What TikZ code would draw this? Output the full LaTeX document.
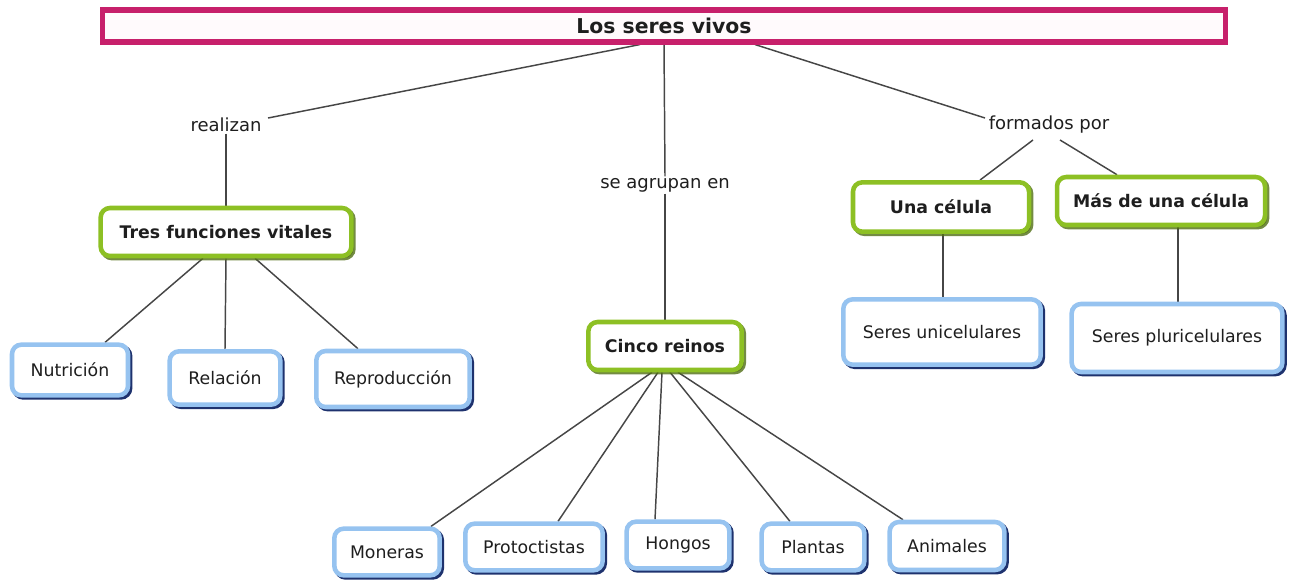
\documentclass[tikz,border=0pt]{standalone}
\usepackage{fontspec}
\setmainfont{DejaVu Sans}
\usetikzlibrary{shadows,calc,backgrounds}
\definecolor{pinkb}{RGB}{199,32,107}
\definecolor{greenb}{RGB}{141,192,36}
\definecolor{greensh}{RGB}{80,110,20}
\definecolor{blueb}{RGB}{150,195,240}
\definecolor{bluesh}{RGB}{30,50,110}
\definecolor{txt}{RGB}{30,30,30}
\definecolor{lnc}{RGB}{70,70,70}
\tikzset{
  basebox/.style={line width=3.4pt, rounded corners=7pt, fill=white, text=txt, inner sep=0pt, align=center},
  bluebox/.style={basebox, draw=blueb, font=\fontsize{13}{15}\selectfont,
    drop shadow={shadow xshift=1.6pt, shadow yshift=-1.6pt, fill=bluesh, draw=bluesh, line width=3.4pt, opacity=1}},
  greenbox/.style={basebox, draw=greenb, font=\bfseries\fontsize{13}{15}\selectfont,
    drop shadow={shadow xshift=1.6pt, shadow yshift=-1.6pt, fill=greensh, draw=greensh, line width=3.4pt, opacity=0.8}},
  lbl/.style={text=txt, font=\fontsize{13.5}{15}\selectfont, inner sep=1pt},
  conn/.style={draw=lnc, line width=1.1pt},
}
\begin{document}
\begin{tikzpicture}[x=0.75pt,y=-0.75pt]
\useasboundingbox (0,0) rectangle (1294,581);
% top
\node[draw=pinkb, line width=3.8pt, fill={rgb,255:red,255;green,250;blue,252}, minimum width=842pt, minimum height=24pt, inner sep=0pt, text=txt, font=\bfseries\fontsize{15.3}{17}\selectfont] (top) at (664,26) {Los seres vivos};
% labels
\node[lbl] (realizan) at (226,125) {realizan};
\node[lbl] (agrupan) at (665,185) {se agrupan en};
\node[lbl] (formados) at (1049,125) {formados por};
% green boxes
\node[greenbox, minimum width=188pt, minimum height=36pt] (tres) at (226,232) {Tres funciones vitales};
\node[greenbox, minimum width=115pt, minimum height=36pt] (cinco) at (665,346) {Cinco reinos};
\node[greenbox, minimum width=132pt, minimum height=37pt] (una) at (941,207) {Una célula};
\node[greenbox, minimum width=156pt, minimum height=36pt] (mas) at (1161,201) {Más de una célula};
% blue boxes
\node[bluebox, minimum width=87pt, minimum height=38pt] (nutri) at (70,370) {Nutrición};
\node[bluebox, minimum width=83pt, minimum height=40pt] (rel) at (225,378) {Relación};
\node[bluebox, minimum width=115pt, minimum height=42pt] (repro) at (393,379) {Reproducción};
\node[bluebox, minimum width=79pt, minimum height=35pt] (mon) at (387,552) {Moneras};
\node[bluebox, minimum width=103pt, minimum height=35pt] (pro) at (534,547) {Protoctistas};
\node[bluebox, minimum width=77pt, minimum height=35pt] (hon) at (678,545) {Hongos};
\node[bluebox, minimum width=77pt, minimum height=35pt] (pla) at (813,547) {Plantas};
\node[bluebox, minimum width=86pt, minimum height=36pt] (ani) at (947,546) {Animales};
\node[bluebox, minimum width=148pt, minimum height=49pt] (uni) at (942,332) {Seres unicelulares};
\node[bluebox, minimum width=158pt, minimum height=51pt] (pluri) at (1177,338) {Seres pluricelulares};
% connectors
\begin{scope}[on background layer]
\draw[conn] ($(top.south)+(-24,0)$) -- ($(realizan)+(42,-7)$);
\draw[conn] (realizan.south) -- (tres.north);
\draw[conn] (top.south) -- (agrupan.north);
\draw[conn] (agrupan.south) -- (cinco.north);
\draw[conn] ($(top.south)+(91,0)$) -- ($(formados)+(-64,-7)$);
\draw[conn] ($(formados)+(-16,15)$) -- ($(una.north)+(39,0)$);
\draw[conn] ($(formados)+(11,15)$) -- ($(mas.north)+(-44,0)$);
\draw[conn] ($(una.south)+(2,0)$) -- ($(uni.north)+(1,0)$);
\draw[conn] ($(mas.south)+(17,0)$) -- ($(pluri.north)+(1,0)$);
\draw[conn] ($(tres.south)+(-23,0)$) -- ($(nutri.north)+(35,0)$);
\draw[conn] (tres.south) -- (rel.north);
\draw[conn] ($(tres.south)+(29,0)$) -- ($(repro.north)+(-35,0)$);
\draw[conn] ($(cinco.south)+(-13,0)$) -- ($(mon.north)+(44,0)$);
\draw[conn] ($(cinco.south)+(-7,0)$) -- ($(pro.north)+(24,0)$);
\draw[conn] ($(cinco.south)+(-3,0)$) -- ($(hon.north)+(-23,0)$);
\draw[conn] ($(cinco.south)+(5,0)$) -- ($(pla.north)+(-23,0)$);
\draw[conn] ($(cinco.south)+(13,0)$) -- ($(ani.north)+(-44,0)$);
\end{scope}
\end{tikzpicture}
\end{document}
